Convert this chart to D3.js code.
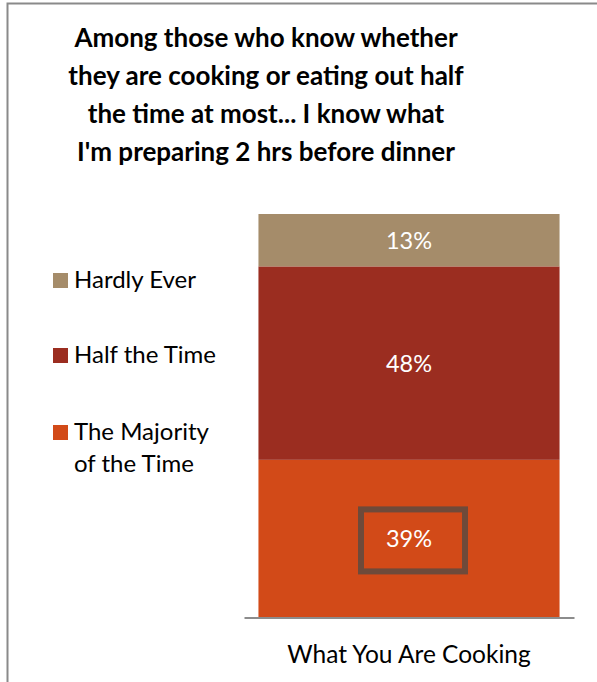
<!DOCTYPE html>
<html>
<head>
<meta charset="utf-8">
<script src="https://cdn.jsdelivr.net/npm/d3@7"></script>
<style>
  html, body { margin: 0; padding: 0; background: #fff; }
  svg { display: block; font-family: Lato, "Open Sans", sans-serif; }
</style>
</head>
<body>
<svg id="chart" width="597" height="682"></svg>
<script>
// Survey answers: how often dinner plans are known 2 hours ahead
const categories = ["What You Are Cooking"];
const seriesNames = ["The Majority of the Time", "Half the Time", "Hardly Ever"];
const seriesValues = [[39], [48], [13]];          // percent, bottom to top
const seriesColors = ["#D24A18", "#9B2D20", "#A58C6A"];
const legendLines = [["Hardly Ever"], ["Half the Time"], ["The Majority", "of the Time"]];
const legendColors = ["#A58C6A", "#9B2D20", "#D24A18"];
const titleLines = [
  "Among those who know whether",
  "they are cooking or eating out half",
  "the time at most... I know what",
  "I'm preparing 2 hrs before dinner"
];
const highlighted = "The Majority of the Time";

const svg = d3.select("#chart");

// outer chart frame
svg.append("rect")
  .attr("x", 7.5).attr("y", 3.5)
  .attr("width", 700).attr("height", 800)
  .attr("fill", "none").attr("stroke", "#8a8a8a").attr("stroke-width", 2);

// title
svg.append("text")
  .attr("text-anchor", "middle")
  .attr("font-weight", 700)
  .attr("font-size", 26)
  .attr("fill", "#000")
  .selectAll("tspan").data(titleLines).join("tspan")
  .attr("x", 266)
  .attr("y", (d, i) => 47 + i * 38)
  .text(d => d);

// scales
const x = d3.scaleBand().domain(categories).range([244, 574])
  .paddingInner(0).paddingOuter(0.048);
const y = d3.scaleLinear().domain([0, 100]).range([617, 214]);

// stack the series
const rows = categories.map((c, ci) => {
  const r = { category: c };
  seriesNames.forEach((s, si) => r[s] = seriesValues[si][ci]);
  return r;
});
const stacked = d3.stack().keys(seriesNames)(rows);

const layers = svg.append("g").selectAll("g").data(stacked).join("g")
  .attr("fill", (d, i) => seriesColors[i]);

layers.selectAll("rect").data(d => d.map(p => ({ p, key: d.key }))).join("rect")
  .attr("x", d => x(d.p.data.category))
  .attr("width", x.bandwidth())
  .attr("y", d => y(d.p[1]))
  .attr("height", d => y(d.p[0]) - y(d.p[1]));

// highlight box around the emphasised value
stacked.filter(s => s.key === highlighted).forEach(s => {
  s.forEach(p => {
    const cx = x(p.data.category) + x.bandwidth() / 2 + 4;
    const cy = (y(p[0]) + y(p[1])) / 2 + 2;
    svg.append("rect")
      .attr("x", cx - 52).attr("y", cy - 31)
      .attr("width", 104).attr("height", 62)
      .attr("fill", "none").attr("stroke", "#6E4A3A").attr("stroke-width", 6);
  });
});

// value labels
layers.selectAll("text").data(d => d.map(p => ({ p, key: d.key }))).join("text")
  .attr("x", d => x(d.p.data.category) + x.bandwidth() / 2)
  .attr("y", d => (y(d.p[0]) + y(d.p[1])) / 2)
  .attr("dy", "0.36em")
  .attr("text-anchor", "middle")
  .attr("font-size", 23.5)
  .attr("fill", "#fff")
  .text(d => (d.p[1] - d.p[0]) + "%");

// category axis
const axis = svg.append("g")
  .attr("transform", `translate(0,${y(0) + 0.5})`)
  .call(d3.axisBottom(x).tickSize(0).tickSizeOuter(0));
axis.select(".domain").attr("stroke", "#8c8c8c").attr("stroke-width", 2);
axis.selectAll(".tick text")
  .attr("font-family", "Lato, sans-serif")
  .attr("font-size", 24.5)
  .attr("fill", "#000")
  .attr("dy", 0)
  .attr("y", 45);

// legend
const legend = svg.append("g").selectAll("g").data(legendLines).join("g")
  .attr("transform", (d, i) => `translate(53,${[273, 348, 425][i]})`);
legend.append("rect")
  .attr("width", 15).attr("height", 15)
  .attr("fill", (d, i) => legendColors[i]);
legend.append("text")
  .attr("font-size", 24)
  .attr("fill", "#000")
  .selectAll("tspan").data(d => d).join("tspan")
  .attr("x", 21)
  .attr("y", (d, i) => 15 + i * 32)
  .text(d => d);
</script>
</body>
</html>
